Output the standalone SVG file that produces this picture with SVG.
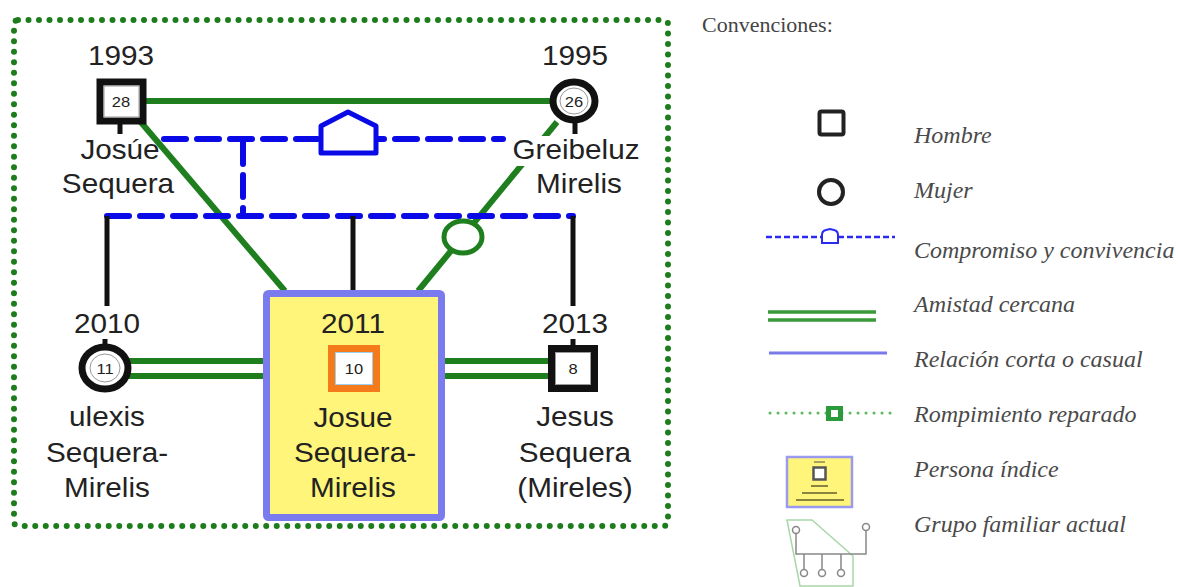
<svg xmlns="http://www.w3.org/2000/svg" width="1178" height="587" viewBox="0 0 1178 587">
<defs>
<style>
.lbl{font-family:"Liberation Sans",Arial,sans-serif;font-size:27px;fill:#222;text-anchor:middle}
.num{font-family:"Liberation Sans",Arial,sans-serif;font-size:15px;fill:#222;text-anchor:middle}
.leg{font-family:"Liberation Serif","Times New Roman",serif;font-style:italic;font-size:24px;fill:#4a4a4a}
.title{font-family:"Liberation Serif","Times New Roman",serif;font-size:22px;fill:#444}
.green{stroke:#1f7f1f;stroke-width:6;fill:none}
.blue{stroke:#0a0ae6;stroke-width:6;fill:none;stroke-dasharray:22 11;stroke-linecap:round}
.black{stroke:#111;stroke-width:5;fill:none}
.male{fill:#fff;stroke:#111;stroke-width:7}
.female{fill:#fff;stroke:#111;stroke-width:7}
.inner{fill:#fff;stroke:#999;stroke-width:1}
</style>
</defs>
<rect width="1178" height="587" fill="#fff"/>

<!-- current family group border -->
<rect id="grupo-familiar" x="14" y="20" width="654" height="506" rx="4" fill="none" stroke="#1d7d1d" stroke-width="6" stroke-dasharray="0 10.5" stroke-linecap="round"/>

<g id="connectors">
  <!-- close friendship parents -->
  <line class="green" x1="143" y1="101" x2="553" y2="101"/>
  <!-- diagonals to index person -->
  <line class="green" x1="139" y1="120" x2="285" y2="291"/>
  <line class="green" x1="557" y1="122" x2="418" y2="291"/>
  <ellipse cx="463" cy="237" rx="19" ry="16" fill="#fff" stroke="#1f7f1f" stroke-width="5"/>
  <!-- cohabitation line -->
  <line class="blue" x1="164" y1="139" x2="503" y2="139"/>
  <path d="M321,153 V126 L348,112 L376,126 V153 Z" fill="#fff" stroke="#0a0ae6" stroke-width="5" stroke-linejoin="round"/>
  <line class="blue" x1="243" y1="142" x2="243" y2="212"/>
  <line class="blue" x1="107" y1="216" x2="573" y2="216"/>
  <!-- children lines -->
  <line class="black" x1="107" y1="216" x2="107" y2="306"/>
  <line class="black" x1="353" y1="216" x2="353" y2="290"/>
  <line class="black" x1="573" y1="216" x2="573" y2="306"/>
  <!-- stubs -->
  <line class="black" x1="120" y1="122" x2="120" y2="134"/>
  <line class="black" x1="575" y1="120" x2="575" y2="134"/>
  <line class="black" x1="105" y1="339" x2="105" y2="346"/>
  <line class="black" x1="573" y1="339" x2="573" y2="347"/>
  <!-- close friendships with siblings -->
  <line class="green" x1="128" y1="361" x2="264" y2="361"/>
  <line class="green" x1="128" y1="376" x2="264" y2="376"/>
  <line class="green" x1="444" y1="361" x2="551" y2="361"/>
  <line class="green" x1="444" y1="376" x2="551" y2="376"/>
</g>

<g id="node-josue-padre">
  <rect class="male" x="100" y="82" width="43" height="39"/>
  <rect class="inner" x="104" y="86" width="35" height="31"/>
  <text class="num" transform="matrix(1.1 0 0 1 121 0)" x="0" y="107">28</text>
  <text class="lbl" transform="matrix(1.1 0 0 1 121 0)" x="0" y="65">1993</text>
  <text class="lbl" transform="matrix(1.1 0 0 1 120 0)" x="0" y="159">Josúe</text>
  <text class="lbl" transform="matrix(1.1 0 0 1 118 0)" x="0" y="193">Sequera</text>
</g>

<g id="node-greibeluz">
  <ellipse class="female" cx="574" cy="101" rx="21" ry="19"/>
  <ellipse cx="574" cy="101" rx="14" ry="13" fill="#fff" stroke="#999" stroke-width="1"/>
  <text class="num" transform="matrix(1.1 0 0 1 574 0)" x="0" y="107">26</text>
  <text class="lbl" transform="matrix(1.1 0 0 1 575 0)" x="0" y="65">1995</text>
  <rect x="508" y="136" width="136" height="30" fill="#fff"/>
  <text class="lbl" transform="matrix(1.1 0 0 1 576 0)" x="0" y="159">Greibeluz</text>
  <text class="lbl" transform="matrix(1.1 0 0 1 579 0)" x="0" y="193">Mirelis</text>
</g>

<g id="node-ulexis">
  <ellipse class="female" cx="105" cy="368" rx="23" ry="21"/>
  <ellipse cx="105" cy="368" rx="15" ry="14" fill="#fff" stroke="#999" stroke-width="1"/>
  <text class="num" transform="matrix(1.1 0 0 1 105 0)" x="0" y="374">11</text>
  <text class="lbl" transform="matrix(1.1 0 0 1 107 0)" x="0" y="333">2010</text>
  <text class="lbl" transform="matrix(1.1 0 0 1 107 0)" x="0" y="426">ulexis</text>
  <text class="lbl" transform="matrix(1.1 0 0 1 107 0)" x="0" y="462">Sequera-</text>
  <text class="lbl" transform="matrix(1.1 0 0 1 107 0)" x="0" y="497">Mirelis</text>
</g>

<g id="node-josue-indice">
  <rect x="266.5" y="293.5" width="175" height="224" fill="#fff57a" stroke="#7b7bf0" stroke-width="7" rx="2"/>
  <rect x="331.5" y="348.5" width="45" height="40" fill="#fff" stroke="#f47a1a" stroke-width="7"/>
  <rect x="335.5" y="352.5" width="37" height="32" fill="#fff" stroke="#9ad0f0" stroke-width="1"/>
  <text class="num" transform="matrix(1.1 0 0 1 354 0)" x="0" y="374">10</text>
  <text class="lbl" transform="matrix(1.1 0 0 1 353 0)" x="0" y="333">2011</text>
  <text class="lbl" transform="matrix(1.1 0 0 1 353 0)" x="0" y="427">Josue</text>
  <text class="lbl" transform="matrix(1.1 0 0 1 355 0)" x="0" y="462">Sequera-</text>
  <text class="lbl" transform="matrix(1.1 0 0 1 353 0)" x="0" y="497">Mirelis</text>
</g>

<g id="node-jesus">
  <rect class="male" x="551.5" y="348.5" width="43" height="40"/>
  <rect class="inner" x="555.5" y="352.5" width="35" height="32"/>
  <text class="num" transform="matrix(1.1 0 0 1 573 0)" x="0" y="374">8</text>
  <text class="lbl" transform="matrix(1.1 0 0 1 575 0)" x="0" y="333">2013</text>
  <text class="lbl" transform="matrix(1.1 0 0 1 575 0)" x="0" y="426">Jesus</text>
  <text class="lbl" transform="matrix(1.1 0 0 1 575 0)" x="0" y="462">Sequera</text>
  <text class="lbl" transform="matrix(1.1 0 0 1 575 0)" x="0" y="497">(Mireles)</text>
</g>

<g id="legend">
  <text class="title" x="702" y="32">Convenciones:</text>

  <rect x="819.5" y="111.5" width="24" height="23" rx="2" fill="#fff" stroke="#222" stroke-width="4"/>
  <text class="leg" x="914" y="143">Hombre</text>

  <circle cx="831" cy="192" r="12" fill="#fff" stroke="#222" stroke-width="4"/>
  <text class="leg" x="914" y="198">Mujer</text>

  <line x1="766" y1="237" x2="895" y2="237" stroke="#2a2af0" stroke-width="2.5" stroke-dasharray="6 3"/>
  <path d="M822,243 V235 Q822,231 826,230 L830,229 L834,230 Q838,231 838,235 V243 Z" fill="#fff" stroke="#2a2af0" stroke-width="2"/>
  <text class="leg" x="914" y="258">Compromiso y convivencia</text>

  <line x1="768" y1="312" x2="876" y2="312" stroke="#3a9a3a" stroke-width="3.5"/>
  <line x1="768" y1="320" x2="876" y2="320" stroke="#3a9a3a" stroke-width="3.5"/>
  <text class="leg" x="914" y="312">Amistad cercana</text>

  <line x1="769" y1="353" x2="887" y2="353" stroke="#7a7ae8" stroke-width="3"/>
  <text class="leg" x="914" y="367">Relación corta o casual</text>

  <line x1="770" y1="413" x2="895" y2="413" stroke="#5ab85a" stroke-width="3" stroke-dasharray="0 8" stroke-linecap="round"/>
  <rect x="826" y="406" width="17" height="15" fill="#2a9a3a"/>
  <rect x="831" y="410" width="7" height="7" fill="#fff"/>
  <text class="leg" x="914" y="422">Rompimiento reparado</text>

  <rect x="787" y="457" width="65" height="50" fill="#fff57a" stroke="#9a9af0" stroke-width="2.5"/>
  <rect x="814" y="461" width="11" height="2" fill="#a8a060"/>
  <rect x="813.5" y="467.5" width="12" height="12" fill="#fff" stroke="#555" stroke-width="2.5"/>
  <rect x="811" y="485" width="17" height="2" fill="#8a8440"/>
  <rect x="802" y="492" width="35" height="2" fill="#8a8440"/>
  <rect x="796" y="499" width="48" height="2" fill="#8a8440"/>
  <text class="leg" x="914" y="477">Persona índice</text>

  <polygon points="787,520 812,520 853,556 853,586 800,586" fill="none" stroke="#a8d8a8" stroke-width="1.5"/>
  <g fill="#fff" stroke="#888" stroke-width="1.5">
    <circle cx="796" cy="530" r="3.5"/>
    <circle cx="866" cy="527" r="3.5"/>
    <circle cx="804" cy="573" r="3.5"/>
    <circle cx="822" cy="573" r="3.5"/>
    <circle cx="841" cy="573" r="3.5"/>
  </g>
  <path d="M796,534 V554 H866 V531 M804,554 V569 M822,554 V569 M841,554 V569" fill="none" stroke="#888" stroke-width="1.5"/>
  <text class="leg" x="914" y="532">Grupo familiar actual</text>
</g>
</svg>
